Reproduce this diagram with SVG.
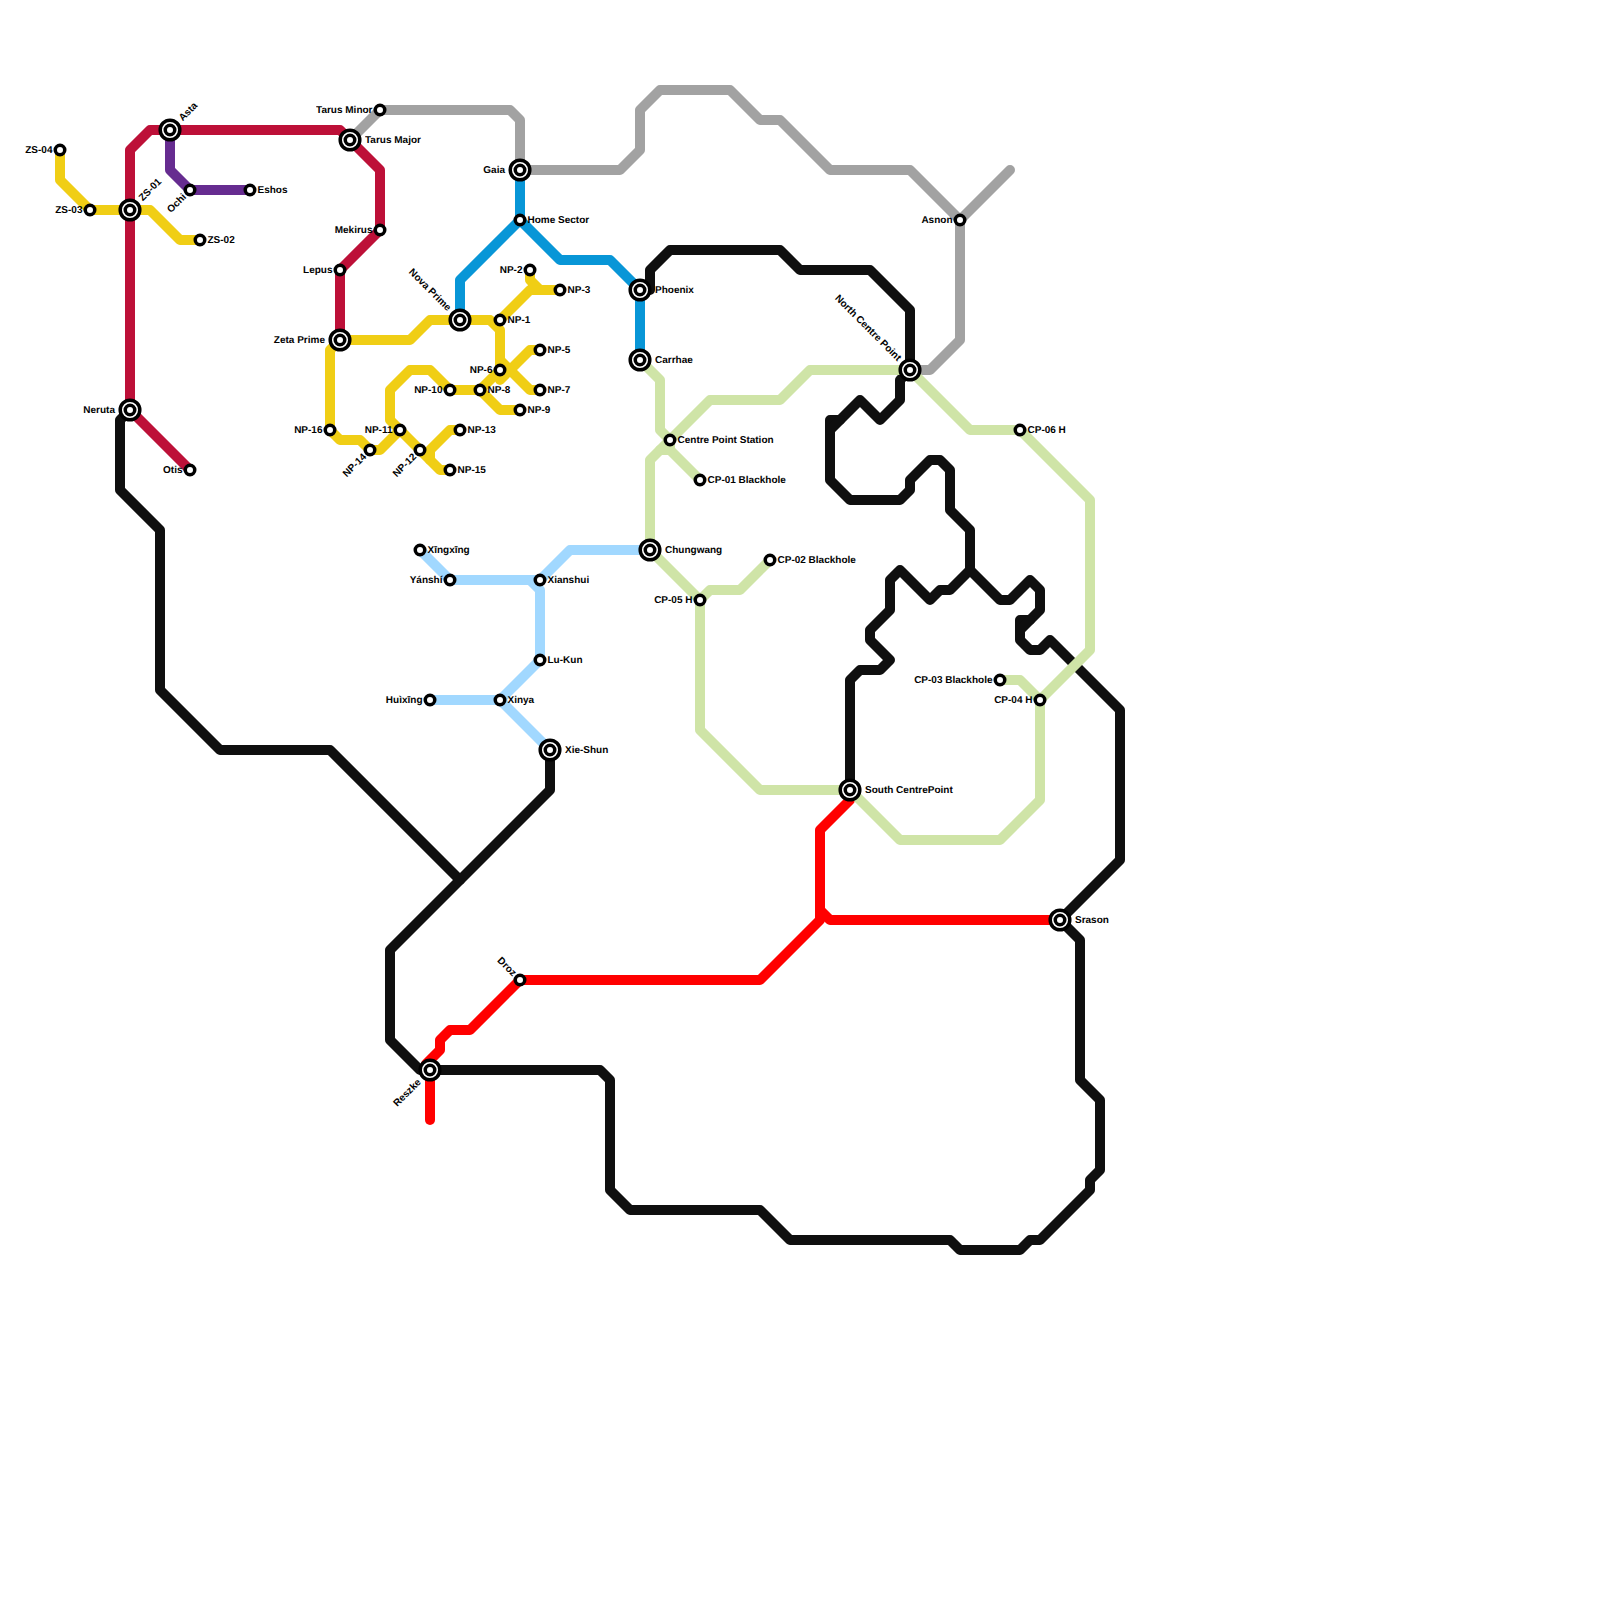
<svg xmlns="http://www.w3.org/2000/svg" width="1600" height="1600" viewBox="0 0 1600 1600">
<style>
.l{fill:none;stroke-width:10;stroke-linecap:round;stroke-linejoin:round}
.k{stroke:#0F0F0F}.y{stroke:#F0CE15}.c{stroke:#BD1038}.p{stroke:#662C90}.g{stroke:#A2A2A2}.b{stroke:#0896D7}.s{stroke:#A1D8FF}.n{stroke:#CFE4A7}.r{stroke:#FF0000}
.o{fill:#fff;stroke:#000;stroke-width:3.5}
.q{fill:#fff;stroke:#000;stroke-width:3.5}
text{font-family:"Liberation Sans",Arial,sans-serif;font-size:10px;font-weight:bold;fill:#000;text-rendering:geometricPrecision;opacity:.99}
.e{text-anchor:end}
</style>
<defs>
<circle id="st" class="o" r="4.75"/>
<g id="ic"><circle class="q" r="9.8"/><circle class="o" r="4.75"/></g>
</defs>
<rect width="1600" height="1600" fill="#fff"/>
<g id="connectors">
<path class="l k" d="M650 290V270L670 250H780L800 270H870L910 310V370L900 380V400L880 420L860 400L840 420H830V480L850 500H900L910 490V480L930 460H940L950 470V510L970 530V570L950 590H940L930 600L900 570L890 580V610L870 630V640L890 660L880 670H860L850 680V790"/>
<path class="l k" d="M840 420L830 430"/>
<path class="l k" d="M970 570L1000 600H1010L1030 580L1040 590V610L1030 620H1020V640L1030 650H1040L1050 640L1120 710V860L1060 920"/>
<path class="l k" d="M1030 620L1020 630"/>
<path class="l k" d="M130 410L120 420V490L160 530V690L220 750H330L460 880"/>
<path class="l k" d="M550 750V790L390 950V1040L420 1070H600L610 1080V1190L630 1210H760L790 1240H950L960 1250H1020L1030 1240H1040L1090 1190V1180L1100 1170V1100L1080 1080V940L1060 920"/>
<path class="l r" d="M430 1120V1070"/>
<path class="l r" d="M426 1064L440 1050V1040L450 1030H470L520 980H760L820 920V830L850 800V790"/>
<path class="l r" d="M820 910L830 920H1060"/>
<path class="l g" d="M350 140L380 110H510L520 120V170H620L640 150V110L660 90H730L760 120H780L830 170H910L960 220L1010 170"/>
<path class="l g" d="M960 220V340L930 370H910"/>
<path class="l y" d="M60 150V180L90 210H150L180 240H200"/>
<path class="l c" d="M190 470L130 410V150L150 130H340L380 170V230L340 270V340"/>
<path class="l p" d="M170 130V170L190 190H250"/>
<path class="l b" d="M520 170V220L460 280V320"/>
<path class="l b" d="M520 220L560 260H610L640 290V360"/>
<path class="l y" d="M340 340H410L430 320H490L500 330V370L480 390H450L430 370H410L390 390V420L440 470H450"/>
<path class="l y" d="M500 320L530 290H560M530 270V280L540 290"/>
<path class="l y" d="M540 350H530L500 380M500 360L530 390H540M500 370H510"/>
<path class="l y" d="M480 390L500 410H520"/>
<path class="l y" d="M460 430H450L430 450V460"/>
<path class="l y" d="M340 340L330 350V430L340 440H360L370 450H380L400 430"/>
<path class="l s" d="M420 550L450 580H540L570 550H650"/>
<path class="l s" d="M530 580L540 590V660L500 700H430"/>
<path class="l s" d="M500 700L550 750"/>
<path class="l n" d="M640 360L660 380V430L670 440V450L700 480"/>
<path class="l n" d="M660 450H670"/>
<path class="l n" d="M910 370H810L780 400H710L650 460V550L700 600V730L760 790H850L900 840H1000L1040 800V700L1090 650V500L1020 430H970L910 370"/>
<path class="l n" d="M700 600L710 590H740L770 560"/>
<path class="l n" d="M1000 680H1020L1040 700"/>
</g>
<g id="n-zs04"><use href="#st" x="60" y="150"/><text class="e" x="52.500" y="152.500">ZS-04</text></g>
<g id="n-zs03"><use href="#st" x="90" y="210"/><text class="e" x="82.500" y="212.500">ZS-03</text></g>
<g id="n-zs01"><use href="#ic" x="130" y="210"/><text transform="translate(130 210) rotate(-45)" x="15" y="3">ZS-01</text></g>
<g id="n-zs02"><use href="#st" x="200" y="240"/><text x="207.500" y="242.500">ZS-02</text></g>
<g id="n-asta"><use href="#ic" x="170" y="130"/><text transform="translate(170 130) rotate(-45)" x="15" y="3">Asta</text></g>
<g id="n-ochi"><use href="#st" x="190" y="190"/><text class="e" transform="translate(190 190) rotate(-45)" x="-7.500" y="3">Ochi</text></g>
<g id="n-eshos"><use href="#st" x="250" y="190"/><text x="257.500" y="192.500">Eshos</text></g>
<g id="n-neruta"><use href="#ic" x="130" y="410"/><text class="e" x="115" y="412.500">Neruta</text></g>
<g id="n-otis"><use href="#st" x="190" y="470"/><text class="e" x="182.500" y="472.500">Otis</text></g>
<g id="n-tarusminor"><use href="#st" x="380" y="110"/><text class="e" x="372.500" y="112.500">Tarus Minor</text></g>
<g id="n-tarusmajor"><use href="#ic" x="350" y="140"/><text x="365" y="142.500">Tarus Major</text></g>
<g id="n-mekirus"><use href="#st" x="380" y="230"/><text class="e" x="372.500" y="232.500">Mekirus</text></g>
<g id="n-lepus"><use href="#st" x="340" y="270"/><text class="e" x="332.500" y="272.500">Lepus</text></g>
<g id="n-zeta"><use href="#ic" x="340" y="340"/><text class="e" x="325" y="342.500">Zeta Prime</text></g>
<g id="n-nova"><use href="#ic" x="460" y="320"/><text class="e" transform="translate(460 320) rotate(45)" x="-15" y="3">Nova Prime</text></g>
<g id="n-np1"><use href="#st" x="500" y="320"/><text x="507.500" y="322.500">NP-1</text></g>
<g id="n-np2"><use href="#st" x="530" y="270"/><text class="e" x="522.500" y="272.500">NP-2</text></g>
<g id="n-np3"><use href="#st" x="560" y="290"/><text x="567.500" y="292.500">NP-3</text></g>
<g id="n-np5"><use href="#st" x="540" y="350"/><text x="547.500" y="352.500">NP-5</text></g>
<g id="n-np6"><use href="#st" x="500" y="370"/><text class="e" x="492.500" y="372.500">NP-6</text></g>
<g id="n-np7"><use href="#st" x="540" y="390"/><text x="547.500" y="392.500">NP-7</text></g>
<g id="n-np8"><use href="#st" x="480" y="390"/><text x="487.500" y="392.500">NP-8</text></g>
<g id="n-np9"><use href="#st" x="520" y="410"/><text x="527.500" y="412.500">NP-9</text></g>
<g id="n-np10"><use href="#st" x="450" y="390"/><text class="e" x="442.500" y="392.500">NP-10</text></g>
<g id="n-np11"><use href="#st" x="400" y="430"/><text class="e" x="392.500" y="432.500">NP-11</text></g>
<g id="n-np12"><use href="#st" x="420" y="450"/><text class="e" transform="translate(420 450) rotate(-45)" x="-7.500" y="3">NP-12</text></g>
<g id="n-np13"><use href="#st" x="460" y="430"/><text x="467.500" y="432.500">NP-13</text></g>
<g id="n-np14"><use href="#st" x="370" y="450"/><text class="e" transform="translate(370 450) rotate(-45)" x="-7.500" y="3">NP-14</text></g>
<g id="n-np15"><use href="#st" x="450" y="470"/><text x="457.500" y="472.500">NP-15</text></g>
<g id="n-np16"><use href="#st" x="330" y="430"/><text class="e" x="322.500" y="432.500">NP-16</text></g>
<g id="n-gaia"><use href="#ic" x="520" y="170"/><text class="e" x="505" y="172.500">Gaia</text></g>
<g id="n-home"><use href="#st" x="520" y="220"/><text x="527.500" y="222.500">Home Sector</text></g>
<g id="n-phoenix"><use href="#ic" x="640" y="290"/><text x="655" y="292.500">Phoenix</text></g>
<g id="n-carrhae"><use href="#ic" x="640" y="360"/><text x="655" y="362.500">Carrhae</text></g>
<g id="n-cps"><use href="#st" x="670" y="440"/><text x="677.500" y="442.500">Centre Point Station</text></g>
<g id="n-cp01"><use href="#st" x="700" y="480"/><text x="707.500" y="482.500">CP-01 Blackhole</text></g>
<g id="n-north"><use href="#ic" x="910" y="370"/><text class="e" transform="translate(910 370) rotate(45)" x="-15" y="3">North Centre Point</text></g>
<g id="n-asnon"><use href="#st" x="960" y="220"/><text class="e" x="952.500" y="222.500">Asnon</text></g>
<g id="n-cp06"><use href="#st" x="1020" y="430"/><text x="1027.500" y="432.500">CP-06 H</text></g>
<g id="n-chungwang"><use href="#ic" x="650" y="550"/><text x="665" y="552.500">Chungwang</text></g>
<g id="n-cp02"><use href="#st" x="770" y="560"/><text x="777.500" y="562.500">CP-02 Blackhole</text></g>
<g id="n-cp05"><use href="#st" x="700" y="600"/><text class="e" x="692.500" y="602.500">CP-05 H</text></g>
<g id="n-cp03"><use href="#st" x="1000" y="680"/><text class="e" x="992.500" y="682.500">CP-03 Blackhole</text></g>
<g id="n-cp04"><use href="#st" x="1040" y="700"/><text class="e" x="1032.500" y="702.500">CP-04 H</text></g>
<g id="n-south"><use href="#ic" x="850" y="790"/><text x="865" y="792.500">South CentrePoint</text></g>
<g id="n-xingxing"><use href="#st" x="420" y="550"/><text x="427.500" y="552.500">Xīngxīng</text></g>
<g id="n-yanshi"><use href="#st" x="450" y="580"/><text class="e" x="442.500" y="582.500">Yánshí</text></g>
<g id="n-xianshui"><use href="#st" x="540" y="580"/><text x="547.500" y="582.500">Xianshui</text></g>
<g id="n-lukun"><use href="#st" x="540" y="660"/><text x="547.500" y="662.500">Lu-Kun</text></g>
<g id="n-huixing"><use href="#st" x="430" y="700"/><text class="e" x="422.500" y="702.500">Huìxīng</text></g>
<g id="n-xinya"><use href="#st" x="500" y="700"/><text x="507.500" y="702.500">Xinya</text></g>
<g id="n-xieshun"><use href="#ic" x="550" y="750"/><text x="565" y="752.500">Xie-Shun</text></g>
<g id="n-srason"><use href="#ic" x="1060" y="920"/><text x="1075" y="922.500">Srason</text></g>
<g id="n-droz"><use href="#st" x="520" y="980"/><text class="e" transform="translate(520 980) rotate(45)" x="-7.500" y="3">Droz</text></g>
<g id="n-reszke"><use href="#ic" x="430" y="1070"/><text class="e" transform="translate(430 1070) rotate(-45)" x="-15" y="3">Reszke</text></g>
</svg>
